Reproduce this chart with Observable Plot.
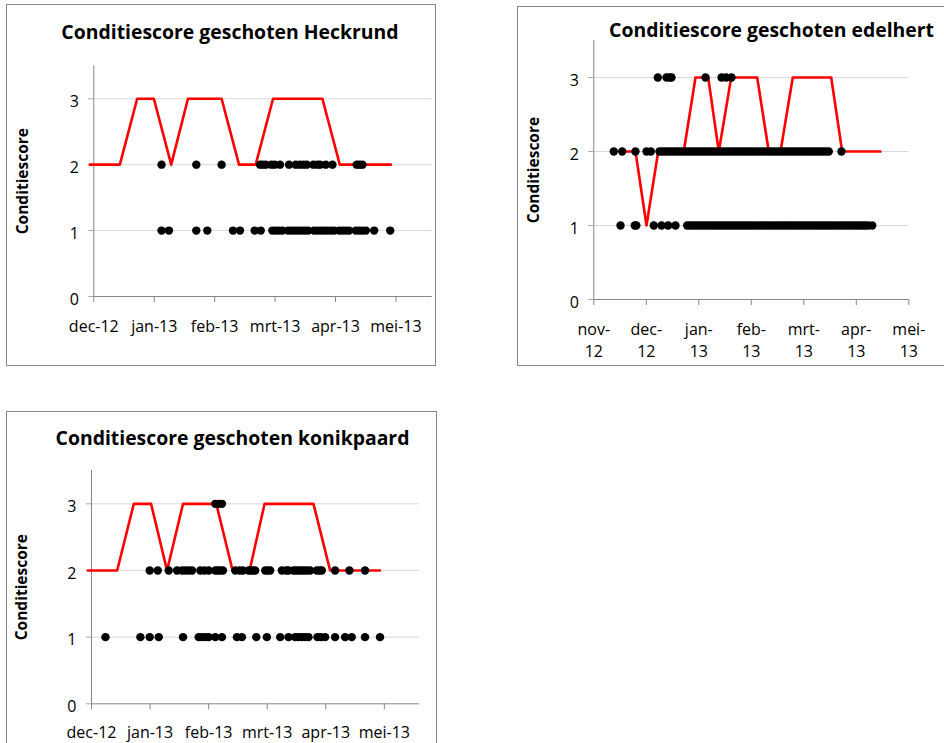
<!DOCTYPE html>
<html><head><meta charset="utf-8">
<script src="https://cdn.jsdelivr.net/npm/d3@7"></script>
<script src="https://cdn.jsdelivr.net/npm/@observablehq/plot@0.6"></script>
<style>
body{margin:0;background:#fff;}
#root{position:relative;width:944px;height:743px;overflow:hidden;font-family:"Open Sans",sans-serif;}
.box{position:absolute;box-sizing:border-box;border:1px solid #868686;}
.title{position:absolute;font-weight:bold;font-size:19.4px;line-height:1;white-space:nowrap;transform:translateX(-50%);color:#000;}
.plot{position:absolute;}
</style></head><body><div id="root"></div>
<script>
// ---- data (x in months since the first tick label) ----
const labelsDec = ["dec-12","jan-13","feb-13","mrt-13","apr-13","mei-13"];
const labelsNov = ["nov-\n12","dec-\n12","jan-\n13","feb-\n13","mrt-\n13","apr-\n13","mei-\n13"];
const yTicks = [0, 1, 2, 3];
const yGrid = [1, 2, 3];
const yTitle = "Conditiescore";

// Heckrund
const heckLineX = [-0.066, 0.431, 0.718, 0.994, 1.281, 1.558, 2.115, 2.403, 2.679, 2.966, 3.783, 4.071, 4.916];
const heckLineY = [2, 2, 3, 3, 2, 3, 3, 2, 2, 3, 3, 2, 2];
const heckScore1 = [1.121, 1.243, 1.696, 1.878, 2.303, 2.419, 2.662, 2.762, 2.955, 3.010, 3.065, 3.121, 3.215, 3.270, 3.325, 3.380, 3.436, 3.491, 3.546, 3.645, 3.701, 3.756, 3.811, 3.866, 3.922, 3.977, 4.060, 4.115, 4.170, 4.225, 4.336, 4.391, 4.446, 4.502, 4.640, 4.905];
const heckScore2 = [1.121, 1.696, 2.115, 2.751, 2.795, 2.845, 2.938, 2.994, 3.082, 3.231, 3.342, 3.408, 3.469, 3.524, 3.634, 3.701, 3.745, 3.839, 3.949, 4.352, 4.397, 4.446];

// edelhert
const edelLineX = [0.604, 0.794, 1.004, 1.227, 1.714, 1.937, 2.179, 2.381, 2.617, 3.112, 3.333, 3.556, 3.790, 4.522, 4.731, 5.461];
const edelLineY = [2, 2, 1, 2, 2, 3, 3, 2, 3, 3, 2, 2, 3, 3, 2, 2];
const edelScore1 = [0.509, 0.780, 0.810, 1.143, 1.290, 1.417, 1.556, 1.779, 1.835, 1.890, 1.946, 2.002, 2.057, 2.113, 2.168, 2.224, 2.280, 2.335, 2.391, 2.446, 2.502, 2.557, 2.613, 2.669, 2.724, 2.780, 2.835, 2.891, 2.946, 3.002, 3.058, 3.113, 3.169, 3.224, 3.280, 3.335, 3.391, 3.447, 3.502, 3.558, 3.613, 3.669, 3.724, 3.780, 3.836, 3.891, 3.947, 4.002, 4.058, 4.113, 4.169, 4.225, 4.280, 4.336, 4.391, 4.447, 4.502, 4.558, 4.614, 4.669, 4.725, 4.780, 4.836, 4.891, 4.947, 5.003, 5.058, 5.114, 5.169, 5.225, 5.303];
const edelScore2 = [0.381, 0.541, 0.794, 1.004, 1.086, 1.251, 1.305, 1.360, 1.415, 1.472, 1.525, 1.583, 1.640, 1.698, 1.750, 1.806, 1.862, 1.918, 1.973, 2.030, 2.084, 2.140, 2.195, 2.250, 2.306, 2.361, 2.417, 2.472, 2.528, 2.583, 2.640, 2.694, 2.750, 2.806, 2.862, 2.917, 2.972, 3.028, 3.083, 3.140, 3.195, 3.250, 3.306, 3.362, 3.417, 3.472, 3.528, 3.583, 3.640, 3.694, 3.750, 3.806, 3.862, 3.917, 3.972, 4.028, 4.083, 4.140, 4.195, 4.250, 4.306, 4.362, 4.417, 4.476, 4.718];
const edelScore3 = [1.219, 1.385, 1.440, 1.480, 2.128, 2.433, 2.522, 2.623];

// konikpaard
const konikLineX = [-0.063, 0.438, 0.722, 1.017, 1.290, 1.563, 2.131, 2.409, 2.699, 2.955, 3.790, 4.074, 4.926];
const konikLineY = [2, 2, 3, 3, 2, 3, 3, 2, 2, 3, 3, 2, 2];
const konikScore1 = [0.239, 0.835, 0.994, 1.148, 1.563, 1.830, 1.886, 1.943, 2.000, 2.114, 2.227, 2.483, 2.568, 2.813, 2.994, 3.222, 3.364, 3.477, 3.534, 3.591, 3.648, 3.705, 3.858, 3.915, 3.989, 4.159, 4.330, 4.443, 4.670, 4.926];
const konikScore2 = [0.994, 1.131, 1.318, 1.460, 1.545, 1.602, 1.659, 1.716, 1.858, 1.926, 2.000, 2.114, 2.153, 2.199, 2.244, 2.455, 2.528, 2.585, 2.682, 2.722, 2.756, 2.795, 2.966, 3.006, 3.051, 3.250, 3.324, 3.364, 3.449, 3.494, 3.540, 3.585, 3.631, 3.676, 3.733, 3.847, 3.892, 3.932, 4.159, 4.403, 4.670];
const konikScore3 = [2.114, 2.170, 2.227];

// ---- build ----
const root = document.getElementById("root");
function toLine(xs, ys) { return xs.map((x, i) => ({x, y: ys[i]})); }
function toDots(levels) { return levels.flatMap(([lvl, xs]) => xs.map(x => ({x, y: lvl}))); }

function panel(cfg) {
  const box = document.createElement("div");
  box.className = "box";
  Object.assign(box.style, {left: cfg.box[0] + "px", top: cfg.box[1] + "px", width: cfg.box[2] + "px", height: cfg.box[3] + "px"});
  root.appendChild(box);

  const t = document.createElement("div");
  t.className = "title";
  t.textContent = cfg.title;
  t.style.left = cfg.titleX + "px";
  t.style.top = cfg.titleTop + "px";
  root.appendChild(t);

  const labels = cfg.labels;
  const xTicks = labels.map((_, i) => i);
  const svg = Plot.plot({
    width: cfg.width, height: cfg.height,
    marginLeft: cfg.ml, marginRight: cfg.mr, marginTop: cfg.mt, marginBottom: cfg.mb,
    style: {background: "transparent", overflow: "visible", fontFamily: "'Open Sans', sans-serif"},
    x: {domain: [0, cfg.xMax]},
    y: {domain: [0, 3.5]},
    marks: [
      Plot.gridY(yGrid, {stroke: "#d9d9d9", strokeOpacity: 1}),
      Plot.axisY(yTicks, {tickSize: 5, tickFormat: () => "", stroke: "#a6a6a6", label: null}),
      Plot.text(yTicks, {y: d => d, frameAnchor: "left", textAnchor: "end", dx: -15, dy: 3, fontSize: 16, fill: "#000"}),
      Plot.ruleX([0], {stroke: "#868686"}),
      Plot.ruleY([0], {stroke: "#868686"}),
      Plot.axisX(xTicks, {tickSize: 6, tickFormat: () => "", stroke: "#868686", label: null}),
      Plot.text(xTicks, {x: d => d, frameAnchor: "bottom", lineAnchor: "top", dy: cfg.labelDy, text: i => labels[i], fontSize: 16, lineHeight: 1.4, fill: "#000"}),
      Plot.line(cfg.line, {x: "x", y: "y", stroke: "#ff0000", strokeWidth: 2.6}),
      Plot.dot(cfg.dots, {x: "x", y: "y", r: 4.2, fill: "#000", stroke: null}),
      Plot.text([yTitle], {frameAnchor: "left", textAnchor: "middle", rotate: -90, dx: cfg.yLabelDx, fontWeight: "bold", fontSize: 15.5, fill: "#000"})
    ]
  });
  const wrap = document.createElement("div");
  wrap.className = "plot";
  wrap.style.left = cfg.left + "px";
  wrap.style.top = cfg.top + "px";
  wrap.appendChild(svg);
  root.appendChild(wrap);
}

panel({
  box: [6, 4, 430, 362], title: "Conditiescore geschoten Heckrund", titleX: 230, titleTop: 22,
  left: 0, top: 0, width: 440, height: 370, ml: 93.3, mr: 8.3, mt: 65.3, mb: 74, xMax: 5.6,
  labels: labelsDec, labelDy: 19.8, yLabelDx: -70.6,
  line: toLine(heckLineX, heckLineY),
  dots: toDots([[1, heckScore1], [2, heckScore2]])
});
panel({
  box: [517, 6, 500, 360], title: "Conditiescore geschoten edelhert", titleX: 771.5, titleTop: 19.7,
  left: 515, top: 0, width: 429, height: 370, ml: 78.3, mr: 35.7, mt: 40, mb: 71, xMax: 6,
  labels: labelsNov, labelDy: 19.6, yLabelDx: -60,
  line: toLine(edelLineX, edelLineY),
  dots: toDots([[1, edelScore1], [2, edelScore2], [3, edelScore3]])
});
panel({
  box: [6, 411, 431, 400], title: "Conditiescore geschoten konikpaard", titleX: 232.5, titleTop: 427.7,
  left: 0, top: 405, width: 440, height: 338, ml: 91, mr: 21, mt: 65, mb: 39.7, xMax: 5.6,
  labels: labelsDec, labelDy: 18, yLabelDx: -69.3,
  line: toLine(konikLineX, konikLineY),
  dots: toDots([[1, konikScore1], [2, konikScore2], [3, konikScore3]])
});
</script>
</body></html>
